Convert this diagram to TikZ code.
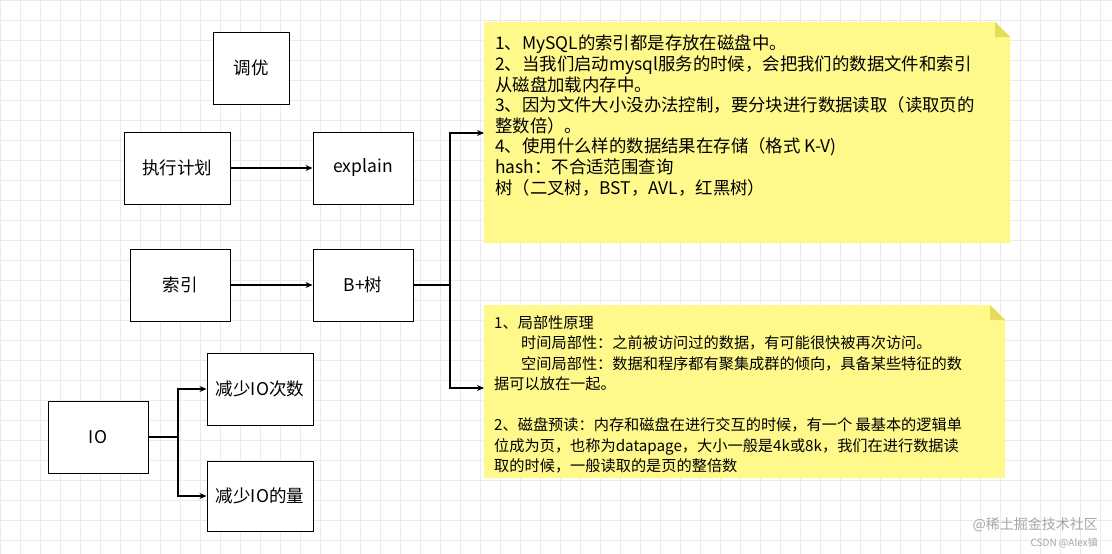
\documentclass[tikz,border=0pt]{standalone}
\usepackage{fontspec}
\setmainfont{Noto Sans CJK SC}
\usetikzlibrary{arrows.meta}
\begin{document}
\begin{tikzpicture}[x=1pt,y=-1pt,
  box/.style={draw=black,line width=1pt,fill=white,minimum width=100pt,minimum height=72pt,inner sep=0pt,font=\fontsize{17.5}{20}\selectfont},
  arr/.style={-{Stealth[length=7pt,width=6pt]},line width=1.1pt},
  note/.style={fill=yellow!45!white,draw=none}]
\useasboundingbox (0,0) rectangle (1112,554);
\fill[white] (0,0) rectangle (1112,554);
\foreach \i in {0,20,...,1100} \draw[black!8,line width=0.6pt] (\i,0) -- (\i,554);
\foreach \j in {0,20,...,540} \draw[black!8,line width=0.6pt] (0,\j) -- (1112,\j);
\node[box,minimum width=76pt] (ty) at (251,68) {调优};
\node[box,minimum width=106pt] (zx) at (177,168) {执行计划};
\node[box] (ex) at (363,168) {explain};
\node[box] (sy) at (180,285) {索引};
\node[box] (bt) at (363,285) {B+树};
\node[box,minimum width=106pt] (j1) at (260,389) {减少IO次数};
\node[box] (io) at (98,437) {IO};
\node[box,minimum width=106pt,minimum height=70pt] (j2) at (260,496) {减少IO的量};
% notes
\fill[note] (484,22) -- (995,22) -- (1010,37) -- (1010,243) -- (484,243) -- cycle;
\fill[yellow!60!olive!60!white] (995,22) -- (1010,37) -- (995,37) -- cycle;
\coordinate (n1) at (484,133);
\node[anchor=north west,align=left,inner sep=0pt,font=\fontsize{17.4}{20.6}\selectfont] at (495,35) {1、MySQL的索引都是存放在磁盘中。\\2、当我们启动mysql服务的时候，会把我们的数据文件和索引\\从磁盘加载内存中。\\3、因为文件大小没办法控制，要分块进行数据读取（读取页的\\整数倍）。\\4、使用什么样的数据结果在存储（格式 K-V)\\hash：不合适范围查询\\树（二叉树，BST，AVL，红黑树）};
\fill[note] (484,305) -- (990,305) -- (1005,320) -- (1005,478) -- (484,478) -- cycle;
\fill[yellow!60!olive!60!white] (990,305) -- (1005,320) -- (990,320) -- cycle;
\coordinate (n2) at (484,388);
\node[anchor=north west,align=left,inner sep=0pt,font=\fontsize{15.2}{20.5}\selectfont] at (494,315) {1、局部性原理\\\hspace*{27pt}时间局部性：之前被访问过的数据，有可能很快被再次访问。\\\hspace*{27pt}空间局部性：数据和程序都有聚集成群的倾向，具备某些特征的数\\据可以放在一起。\\[20.5pt]2、磁盘预读：内存和磁盘在进行交互的时候，有一个 最基本的逻辑单\\位成为页，也称为datapage，大小一般是4k或8k，我们在进行数据读\\取的时候，一般读取的是页的整倍数};
% connectors
\draw[arr] (zx) -- (ex);
\draw[arr] (sy) -- (bt);
\draw[arr] (bt.east) -- (450,285) |- (n1);
\draw[arr] (bt.east) -- (450,285) |- (n2);
\draw[arr] (io.east) -- (178,437) |- (j1.west);
\draw[arr] (io.east) -- (178,437) |- (j2.west);
\node[anchor=east,text=black!35,font=\fontsize{14}{16}\selectfont,inner sep=0pt] at (1098,525) {@稀土掘金技术社区};
\node[anchor=east,text=black!35,font=\fontsize{10}{12}\selectfont,inner sep=0pt] at (1098,543) {CSDN @Alex镇};
\end{tikzpicture}
\end{document}
